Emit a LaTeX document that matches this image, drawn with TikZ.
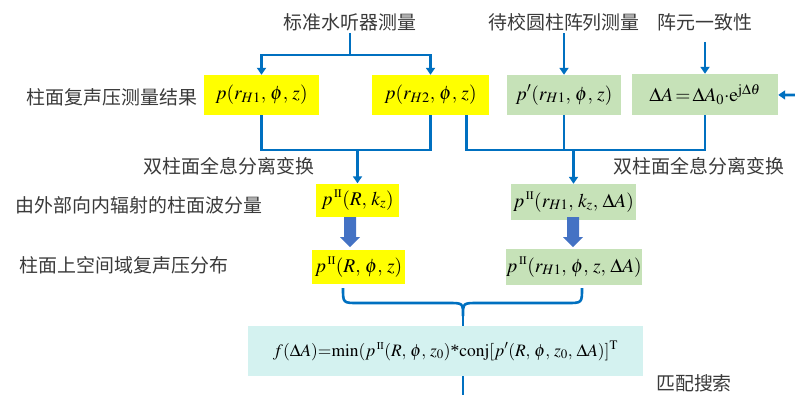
\documentclass[tikz,border=0pt]{standalone}
\usepackage{mathptmx}
\usepackage{fontspec}
\setmainfont{Liberation Serif}
\newfontfamily\cjk{Noto Sans CJK SC}
\usetikzlibrary{arrows.meta}

\definecolor{yel}{HTML}{FFFF00}
\definecolor{grn}{HTML}{C6E2B8}
\definecolor{cyn}{HTML}{D4F2F0}
\definecolor{lineblue}{HTML}{0070C0}
\definecolor{blk}{HTML}{4472C4}
\definecolor{txt}{HTML}{3A3A3A}
\newcommand{\cm}{,\,}
\newcommand{\pII}{p^{\,\scriptscriptstyle\mathrm{II}}}

\begin{document}
\begin{tikzpicture}[x=1bp,y=-1bp,
  lbl/.style={font=\cjk\fontsize{19}{22}\selectfont,text=txt,inner sep=2bp},
  box/.style={inner sep=0pt,font=\fontsize{19.5}{24}\selectfont},
  ybox/.style={box,fill=yel},
  gbox/.style={box,fill=grn},
  conn/.style={draw=lineblue,line width=2.6bp},
  arr/.style={conn,-{Triangle[width=9bp,length=7bp]}}]
  \useasboundingbox (0,0) rectangle (795,395);
  % top labels
  \node[lbl] (std) at (350,22) {标准水听器测量};
  \node[lbl] (cal) at (564,22) {待校圆柱阵列测量};
  \node[lbl] (uni) at (705,22) {阵元一致性};
  % first row: measured pressure
  \node[ybox,minimum width=115bp,minimum height=40bp] (b1) at (261.5,95) {$p(r_{H1}\cm \phi\cm z)$};
  \node[ybox,minimum width=117bp,minimum height=40bp] (b2) at (430.5,95) {$p(r_{H2}\cm \phi\cm z)$};
  \node[gbox,minimum width=114bp,minimum height=40bp] (b3) at (564,95) {$p'(r_{H1}\cm \phi\cm z)$};
  \node[gbox,minimum width=146bp,minimum height=41bp] (b4) at (705,94.5) {$\Delta A\,{=}\,\Delta A_0{\cdot}\mathrm{e}^{\mathrm{j}\Delta\theta}$};
  % separated components
  \node[ybox,minimum width=83bp,minimum height=33bp] (b5) at (357.5,200) {$\pII(R\cm k_z)$};
  \node[gbox,minimum width=125bp,minimum height=36bp] (b6) at (573.5,202) {$\pII(r_{H1}\cm k_z\cm \Delta A)$};
  \node[ybox,minimum width=93bp,minimum height=34bp] (b7) at (358.5,267) {$\pII(R\cm \phi\cm z)$};
  \node[gbox,minimum width=136bp,minimum height=36bp] (b8) at (574,267) {$\pII(r_{H1}\cm \phi\cm z\cm \Delta A)$};
  % matching
  \node[box,fill=cyn,minimum width=395bp,minimum height=50bp,font=\fontsize{17.5}{22}\selectfont] (b9) at (445.5,351)
    {$f(\Delta A)\mathord{=}\mathrm{min}(\pII(R\cm \phi\cm z_0)\mbox{*}\mathrm{conj}[p'(R\cm \phi\cm z_0\cm \Delta A)]^{\mathrm{T}}$};
  % side labels
  \node[lbl] (l1) at (112,97) {柱面复声压测量结果};
  \node[lbl] (l2) at (229,166) {双柱面全息分离变换};
  \node[lbl] (l3) at (699,166) {双柱面全息分离变换};
  \node[lbl] (l4) at (139,205) {由外部向内辐射的柱面波分量};
  \node[lbl] (l5) at (124,265) {柱面上空间域复声压分布};
  \node[lbl] (l6) at (694,383) {匹配搜索};
  % connectors
  \coordinate (s) at (350,55);
  \draw[conn] (std) -- (s);
  \draw[arr] (s) -| (b1);
  \draw[arr] (s) -| (b2);
  \draw[arr] (cal) -- (b3);
  \draw[arr] ([yshift=-9bp]uni.south) -- (b4);
  \coordinate (rin) at (795,95);
  \draw[arr] (rin) -- (b4);
  \coordinate (m1) at (357.5,150);
  \coordinate (m2) at (573.5,150);
  \draw[conn] (b1) |- (m1) -| (b2);
  \draw[arr] (m1) -- (b5);
  \draw[conn] ([xshift=36bp]b2.south) |- (m2) -| (b4);
  \draw[conn] (b3) -- (b3 |- m2);
  \draw[arr] (m2) -- (b6);
  % block arrows
  \foreach \x in {350,573}
    \fill[blk] (\x-6,217) -- (\x+6,217) -- (\x+6,237) -- (\x+10,237) -- (\x,247)
      -- (\x-10,237) -- (\x-6,237) -- cycle;
  % brace
  \coordinate (tip) at (463,316);
  \coordinate (bot) at (463,395);
  \draw[conn] (343,288) .. controls (343,303) .. (358,303) -- (448,303)
    .. controls (463,303) .. (tip) .. controls (463,303) .. (478,303)
    -- (567,303) .. controls (582,303) .. (582,288);
  \draw[conn] (tip) -- (tip |- b9.north);
  \draw[conn] (tip |- b9.south) -- (bot);
\end{tikzpicture}
\end{document}
